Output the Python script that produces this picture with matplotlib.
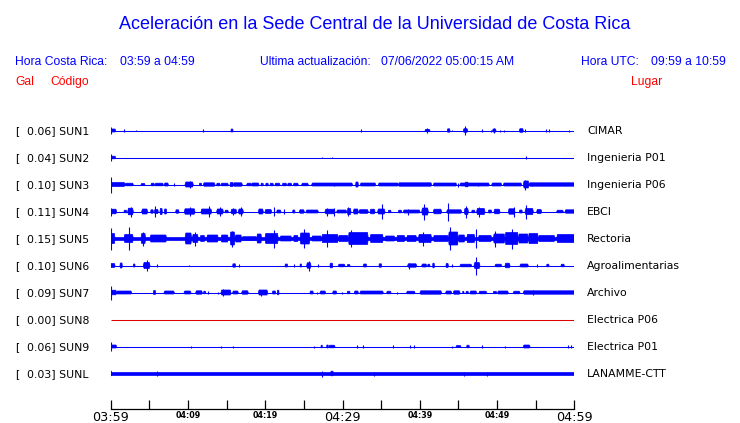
import matplotlib
matplotlib.use("Agg")
import matplotlib.pyplot as plt

# station table
codes = ["SUN1", "SUN2", "SUN3", "SUN4", "SUN5", "SUN6", "SUN7", "SUN8", "SUN9", "SUNL"]
gal = [0.06, 0.04, 0.10, 0.11, 0.15, 0.10, 0.09, 0.00, 0.06, 0.03]
places = ["CIMAR", "Ingenieria P01", "Ingenieria P06", "EBCI", "Rectoria",
          "Agroalimentarias", "Archivo", "Electrica P06", "Electrica P01", "LANAMME-CTT"]

# minutes after 03:59
tick_minutes = [0, 5, 10, 15, 20, 25, 30, 35, 40, 45, 50, 55, 60]
tick_labels = ["03:59", "", "04:09", "", "04:19", "", "04:29", "", "04:39", "", "04:49", "", "04:59"]

# bursts: (start min, end min, half amplitude); start==end is a spike
sun1 = [(0, 0, 3.7), (0, 0.65, 1.5), (1.76, 1.76, 1.3), (3.27, 3.27, 0.8), (11.99, 11.99, 1.2),
        (15.57, 15.83, 1.5), (32.39, 32.39, 1.2), (40.68, 41.32, 1.2), (41.0, 41.0, 2.3),
        (43.57, 43.91, 1.7), (44.13, 44.13, 0.8), (45.64, 46.2, 1.8), (45.85, 45.85, 4.3),
        (48.1, 48.1, 1.2), (49.18, 49.18, 1.0), (49.43, 49.87, 1.5), (49.61, 49.61, 2.5),
        (50.38, 50.38, 1.0), (50.9, 50.9, 1.0), (52.89, 53.4, 1.8), (53.62, 53.62, 1.2),
        (56.34, 56.34, 1.2), (56.77, 56.77, 1.2), (59.36, 59.36, 1.0)]
sun2 = [(0, 0, 3.3), (0, 0.65, 1.3), (27.39, 27.39, 0.9), (28.68, 28.68, 0.9), (53.71, 53.71, 1.2)]
sun3 = [(0, 0, 8.0), (0, 1.85, 2.0), (1.85, 2.93, 1.3), (3.92, 4.44, 1.0), (5.22, 5.65, 1.3),
        (5.73, 6.81, 1.3), (6.94, 7.46, 1.5), (8.19, 8.19, 1.2), (9.62, 10.69, 2.5),
        (10.26, 10.26, 3.5), (11.47, 11.77, 1.3), (11.99, 13.5, 1.7), (13.71, 14.15, 1.3),
        (14.27, 15.22, 1.3), (15.44, 15.87, 2.0), (15.87, 17.04, 1.7), (17.6, 18.24, 1.3),
        (18.24, 19.19, 1.5), (19.45, 19.75, 1.3), (20.06, 20.4, 1.3), (20.62, 21.05, 1.3),
        (21.26, 21.91, 1.3), (22.21, 22.77, 1.3), (22.9, 23.42, 1.3), (23.64, 24.28, 1.3),
        (24.71, 25.58, 1.3), (26.01, 31.3, 1.5), (28.94, 28.94, 1.8), (31.7, 32.05, 2.5),
        (32.3, 34.3, 1.5), (34.64, 37.23, 1.5), (37.23, 41.54, 1.7), (41.76, 44.77, 1.5),
        (44.99, 44.99, 2.0), (45.2, 49.0, 1.5), (45.85, 46.29, 2.3), (47.49, 47.49, 1.8),
        (49.31, 50.6, 1.5), (50.82, 53.19, 1.5), (53.4, 54.14, 3.5), (53.6, 53.6, 5.0),
        (54.14, 60, 1.7), (54.48, 54.48, 1.8)]
sun4 = [(0, 0.77, 2.3), (0, 0, 4.0), (1.72, 2.07, 1.3), (2.2, 2.93, 3.3), (2.58, 2.58, 5.0),
        (4.01, 4.78, 2.5), (5.17, 5.52, 1.7), (5.73, 5.73, 5.5), (5.65, 6.16, 2.0),
        (6.38, 6.68, 3.0), (6.94, 7.24, 2.5), (8.41, 8.84, 1.7), (9.53, 10.91, 2.7),
        (10.26, 10.26, 4.5), (11.69, 13.07, 2.5), (12.76, 12.76, 5.5), (13.71, 14.58, 2.5),
        (14.15, 14.15, 4.5), (14.79, 15.22, 1.3), (15.57, 16.3, 2.3), (15.78, 15.78, 3.5),
        (16.52, 17.17, 2.5), (16.82, 16.82, 4.5), (19.11, 19.75, 2.5), (19.97, 20.83, 2.0),
        (21.13, 21.13, 4.3), (21.48, 22.04, 1.5), (22.43, 22.43, 2.5), (23.55, 23.85, 1.5),
        (24.41, 25.06, 1.7), (25.28, 26.87, 1.5), (27.73, 29.03, 2.3), (28.04, 28.04, 4.0),
        (28.94, 28.94, 4.0), (29.25, 30.54, 1.5), (30.62, 31.1, 3.0), (30.75, 30.75, 4.5),
        (31.4, 32.05, 2.5), (32.13, 33.34, 1.8), (33.56, 34.21, 2.3), (34.55, 35.5, 2.5),
        (35.15, 35.15, 7.3), (35.93, 36.28, 1.3), (37.23, 37.66, 1.3), (37.87, 40.03, 1.5),
        (38.52, 38.52, 3.0), (40.25, 41.11, 3.5), (40.55, 40.55, 8.0), (41.76, 42.83, 2.3),
        (43.48, 45.42, 1.7), (43.7, 43.7, 9.0), (45.77, 46.29, 3.0), (45.94, 45.94, 6.0),
        (46.72, 47.15, 1.3), (47.36, 48.44, 3.0), (47.67, 47.67, 5.0), (48.87, 49.31, 1.5),
        (49.61, 50.38, 2.3), (51.46, 52.32, 2.7), (52.2, 52.2, 5.0), (52.89, 53.27, 1.5),
        (53.62, 54.7, 3.0), (53.75, 53.75, 7.0), (55.13, 55.78, 2.0), (57.72, 58.58, 1.3),
        (58.8, 60, 1.7)]
sun5 = [(0, 60, 1.3), (0, 0.56, 5.0), (0, 0, 11.0), (1.72, 2.93, 4.0), (2.37, 2.37, 11.6),
        (3.92, 4.52, 5.0), (4.14, 4.14, 7.0), (5.09, 7.24, 3.5), (9.62, 10.48, 5.5),
        (10.56, 11.34, 4.0), (10.91, 10.91, 7.0), (11.56, 12.2, 3.0), (12.42, 13.93, 3.5),
        (14.27, 15.22, 3.5), (15.44, 16.09, 6.5), (15.66, 15.66, 8.0), (16.09, 16.95, 3.5),
        (17.0, 18.9, 1.8), (18.89, 19.54, 4.5), (19.97, 21.69, 5.0), (21.13, 21.13, 9.0),
        (21.91, 23.42, 2.5), (23.64, 24.28, 3.0), (24.5, 25.79, 5.5), (25.06, 25.06, 9.5),
        (26.01, 27.3, 2.5), (27.3, 29.46, 4.0), (27.95, 27.95, 8.5), (29.46, 30.75, 3.0),
        (30.75, 33.34, 6.0), (31.06, 31.06, 8.5), (33.56, 35.28, 4.0), (35.5, 36.79, 2.5),
        (37.01, 38.09, 3.0), (38.3, 39.6, 3.0), (39.82, 41.54, 4.0), (40.46, 40.46, 7.0),
        (41.76, 43.7, 3.0), (43.7, 44.99, 6.5), (43.91, 43.91, 11.5), (44.99, 45.85, 3.5),
        (46.07, 47.15, 4.0), (47.23, 47.23, 9.7), (47.58, 49.31, 3.0), (49.52, 51.03, 4.5),
        (49.74, 49.74, 8.0), (51.03, 52.76, 6.0), (51.89, 51.89, 10.0), (52.76, 54.05, 4.5),
        (54.05, 55.35, 5.0), (55.35, 57.5, 3.0), (57.72, 60, 4.0)]
sun6 = [(0, 0.56, 2.0), (1.2, 1.5, 2.5), (2.93, 3.15, 1.5), (4.22, 5.09, 3.0), (4.65, 4.65, 5.5),
        (6.04, 6.04, 1.3), (10.13, 10.13, 0.9), (15.78, 16.17, 1.7), (16.65, 16.65, 1.5),
        (22.56, 22.9, 1.5), (23.77, 23.77, 1.2), (24.5, 24.71, 1.5), (25.36, 25.92, 2.7),
        (25.66, 25.66, 5.0), (26.87, 26.87, 1.2), (28.38, 28.73, 2.3), (29.46, 30.32, 1.3),
        (30.62, 30.97, 1.0), (32.7, 33.13, 1.5), (34.72, 35.07, 1.7), (38.43, 39.6, 1.7),
        (38.61, 38.61, 3.0), (40.25, 40.89, 1.5), (41.02, 41.32, 1.3), (41.67, 41.89, 2.3),
        (43.39, 43.7, 2.0), (44.13, 44.13, 1.2), (45.21, 46.72, 1.3), (47.02, 47.79, 3.0),
        (47.28, 47.28, 9.0), (49.74, 50.6, 1.3), (51.03, 51.68, 2.3), (52.97, 54.05, 1.5),
        (55.13, 55.13, 1.2), (56.42, 56.73, 1.3), (58.28, 58.71, 1.3)]
sun7 = [(0, 0, 7.0), (0, 0.77, 2.3), (0.77, 2.71, 1.5), (5.52, 5.82, 2.0), (6.9, 8.24, 1.5),
        (9.49, 10.39, 1.5), (11.0, 11.86, 1.7), (12.03, 12.29, 1.3), (12.64, 12.64, 1.3),
        (13.93, 13.93, 1.0), (14.27, 15.57, 2.5), (14.58, 14.58, 3.5), (15.78, 16.52, 1.5),
        (16.95, 17.81, 1.7), (19.11, 20.32, 2.5), (19.45, 19.45, 3.0), (20.92, 21.35, 1.5),
        (21.57, 21.78, 2.3), (25.79, 26.22, 1.5), (26.66, 26.66, 1.0), (27.09, 27.82, 1.5),
        (28.73, 29.25, 1.5), (29.98, 29.98, 1.0), (30.62, 30.97, 1.3), (31.53, 32.05, 1.5),
        (32.26, 35.28, 1.5), (35.72, 36.28, 1.3), (37.01, 37.01, 1.0), (38.3, 39.38, 1.3),
        (40.03, 42.83, 1.7), (43.35, 44.13, 1.5), (44.34, 45.21, 1.7), (45.55, 45.72, 1.2),
        (45.98, 46.29, 1.2), (46.5, 47.36, 1.5), (47.67, 48.66, 1.3), (49.52, 49.95, 1.2),
        (50.08, 51.46, 1.5), (52.11, 52.97, 1.3), (53.4, 60, 1.7), (54.61, 54.61, 2.5)]
sun8 = []
sun9 = [(0, 0, 4.5), (0, 0.77, 1.5), (10.35, 10.35, 1.0), (14.32, 14.32, 1.0), (15.87, 15.87, 1.0),
        (26.35, 26.35, 1.0), (27.22, 27.39, 1.3), (27.95, 28.17, 1.5), (28.25, 29.03, 1.3),
        (31.83, 31.83, 1.2), (32.7, 32.7, 1.2), (36.58, 36.58, 1.2), (38.74, 38.74, 1.2),
        (39.3, 39.3, 1.2), (44.13, 44.13, 1.0), (44.69, 45.33, 1.0), (46.07, 46.41, 1.3),
        (48.01, 48.01, 1.2), (51.03, 51.03, 1.0), (53.4, 54.27, 1.5), (59.23, 59.23, 1.2),
        (59.57, 59.57, 1.2)]
sunl = [(0, 60, 1.7), (0, 0.12, 2.3), (6.04, 6.04, 2.2), (27.39, 27.39, 3.0), (28.47, 28.81, 2.3),
        (34.12, 34.12, 2.0), (45.77, 45.77, 2.0), (48.74, 48.74, 2.0), (60, 60, 2.0)]
traces = [sun1, sun2, sun3, sun4, sun5, sun6, sun7, sun8, sun9, sunl]

W, H = 740, 423
BLUE = "#0000ff"
RED = "#ff0000"


def fx(x):
    return x / W


def fy(y):
    return 1 - y / H


fig = plt.figure(figsize=(7.4, 4.23), dpi=100)
fig.patch.set_facecolor("white")

# axes in pixel-like units vertically, minutes horizontally
ax = fig.add_axes([fx(110.7), fy(409.3), (574.3 - 110.7) / W, (409.3 - 100) / H])
ax.set_xlim(0, 60)
ax.set_ylim(409.3, 100)

for i, bursts in enumerate(traces):
    y0 = 130.5 + 27 * i
    if codes[i] == "SUN8":
        ax.hlines(y0, 0, 60, color="#e00000", lw=0.75)
        continue
    ax.hlines(y0, 0, 60, color=BLUE, lw=0.75)
    for t0, t1, a in bursts:
        if t1 == t0:
            ax.vlines(t0, y0 - a, y0 + a, color=BLUE, lw=0.8)
        else:
            # block with slightly clipped corners
            tp = min(0.15 * (t1 - t0), 0.1)
            x0 = t0 if t0 == 0 else t0 + tp
            x1 = t1 if t1 == 60 else t1 - tp
            xs = [t0, x0, x1, t1, x1, x0]
            ys = [y0, y0 - a, y0 - a, y0, y0 + a, y0 + a]
            ax.fill(xs, ys, color=BLUE, lw=0.5)

for s in ["top", "left", "right"]:
    ax.spines[s].set_visible(False)
ax.spines["bottom"].set_linewidth(0.9)
ax.set_yticks([])
ax.set_xticks(tick_minutes)
ax.set_xticklabels(tick_labels)
ax.tick_params(axis="x", direction="in", length=6.3, width=0.9, pad=1.5)
for k, lab in enumerate(ax.get_xticklabels()):
    if k % 6 == 0:
        lab.set_fontsize(9.2)
    else:
        lab.set_fontsize(5.8)
        lab.set_fontweight("bold")

# header texts
hdr = dict(family="Liberation Sans", va="baseline")
fig.text(fx(375), fy(29.3), "Aceleración en la Sede Central de la Universidad de Costa Rica",
         color=BLUE, fontsize=13.0, ha="center", **hdr)
fig.text(fx(15), fy(65.3), "Hora Costa Rica:", color=BLUE, fontsize=8.7, **hdr)
fig.text(fx(120), fy(65.3), "03:59 a 04:59", color=BLUE, fontsize=8.7, **hdr)
fig.text(fx(260), fy(65.3), "Ultima actualización:", color=BLUE, fontsize=8.7, **hdr)
fig.text(fx(380.7), fy(65.3), "07/06/2022 05:00:15 AM", color=BLUE, fontsize=8.7, **hdr)
fig.text(fx(580.7), fy(65.3), "Hora UTC:", color=BLUE, fontsize=8.7, **hdr)
fig.text(fx(650.7), fy(65.3), "09:59 a 10:59", color=BLUE, fontsize=8.7, **hdr)
fig.text(fx(15), fy(85.3), "Gal", color=RED, fontsize=8.7, **hdr)
fig.text(fx(50), fy(85.3), "Código", color=RED, fontsize=8.7, **hdr)
fig.text(fx(630.7), fy(85.3), "Lugar", color=RED, fontsize=8.7, **hdr)

# station labels
for i in range(len(codes)):
    yb = 130.3 + 27 * i + 3.9
    fig.text(fx(15), fy(yb), "[", fontsize=7.8, va="baseline")
    fig.text(fx(27.3), fy(yb), "%.2f] %s" % (gal[i], codes[i]), fontsize=7.8, va="baseline")
    fig.text(fx(587), fy(yb), places[i], fontsize=7.8, va="baseline")

fig.savefig("out.png", dpi=100)
